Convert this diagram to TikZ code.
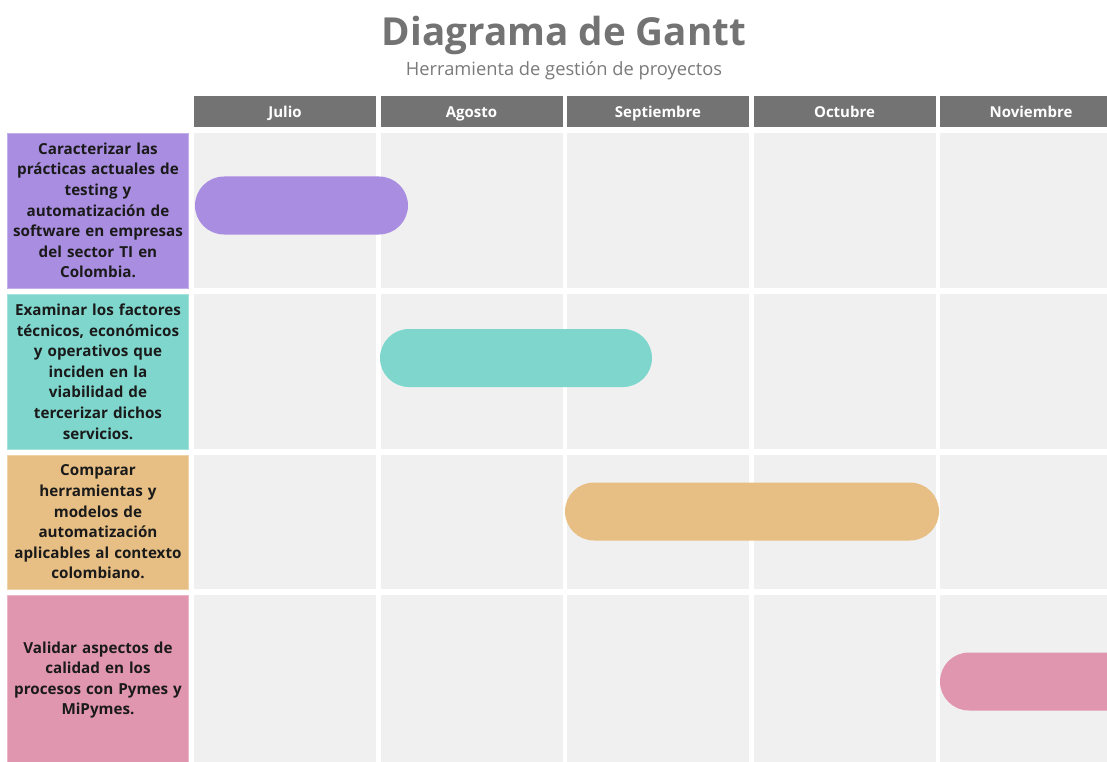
\documentclass[tikz,border=0pt]{standalone}
\usepackage{fontspec}
\setmainfont{Open Sans}
\definecolor{titlegray}{HTML}{737373}
\definecolor{subgray}{HTML}{7A7A7A}
\definecolor{headgray}{HTML}{737373}
\definecolor{cellgray}{HTML}{F0F0F0}
\definecolor{cpurple}{HTML}{A98DE0}
\definecolor{cteal}{HTML}{7ED6CD}
\definecolor{corange}{HTML}{E7BF84}
\definecolor{cpink}{HTML}{E196AF}
\definecolor{labeltext}{HTML}{1A1A1A}
\tikzset{
  cell/.style={fill=cellgray, draw=none},
  head/.style={fill=headgray, draw=none, text=white, font=\fontsize{15}{18}\selectfont\bfseries, inner sep=0pt, text height=15pt, text depth=2pt, minimum height=31pt, minimum width=182pt},
  labelbox/.style={draw=#1!70!white, line width=0.8pt, fill=#1, text=labeltext, align=center, inner sep=0pt, text width=178pt, minimum width=181pt, font=\fontsize{15.2}{20.6}\selectfont\bfseries},
  bar/.style={fill=#1, draw=none, rounded corners=29pt, minimum height=58pt, inner sep=0pt},
}
\begin{document}
\begin{tikzpicture}[x=1pt,y=-1pt]
\useasboundingbox (0,0) rectangle (1107,762);
\clip (0,0) rectangle (1107,762);
\fill[white] (0,0) rectangle (1107,762);
% title
\node[text=titlegray, font=\fontsize{38.6}{42}\selectfont\bfseries] (title) at (564,35) {Diagrama de Gantt};
\node[text=subgray, font=\fontsize{18.3}{21}\selectfont] (subtitle) at (564,71) {Herramienta de gestión de proyectos};
% headers
\node[head] (hjul) at (285,111.5) {Julio};
\node[head] (hago) at (471.5,111.5) {Agosto};
\node[head] (hsep) at (658,111.5) {Septiembre};
\node[head] (hoct) at (844.5,111.5) {Octubre};
\node[head] (hnov) at (1031,111.5) {Noviembre};
% grid cells
\foreach \x in {194,380.5,567,753.5,940}{
  \fill[cell] (\x,133) rectangle ++(182,155);
  \fill[cell] (\x,294) rectangle ++(182,155);
  \fill[cell] (\x,455) rectangle ++(182,134);
  \fill[cell] (\x,595) rectangle ++(182,175);
}
% labels
\node[labelbox=cpurple, minimum height=155pt] (l1) at (98,210.5) {Caracterizar las\\prácticas actuales de\\testing y\\automatización de\\software en empresas\\del sector TI en\\Colombia.};
\node[labelbox=cteal, minimum height=155pt] (l2) at (98,371.5) {Examinar los factores\\técnicos, económicos\\y operativos que\\inciden en la\\viabilidad de\\tercerizar dichos\\servicios.};
\node[labelbox=corange, minimum height=134pt] (l3) at (98,522) {Comparar\\herramientas y\\modelos de\\automatización\\aplicables al contexto\\colombiano.};
\node[labelbox=cpink, minimum height=170pt] (l4) at (98,680) {Validar aspectos de\\calidad en los\\procesos con Pymes y\\MiPymes.};
% bars
\node[bar=cpurple, minimum width=213pt] (b1) at (301.5,205.5) {};
\node[bar=cteal, minimum width=272pt] (b2) at (516,358) {};
\node[bar=corange, minimum width=374pt] (b3) at (752,511.5) {};
\node[bar=cpink, minimum width=240pt] (b4) at (1060,681.5) {};
\end{tikzpicture}
\end{document}
